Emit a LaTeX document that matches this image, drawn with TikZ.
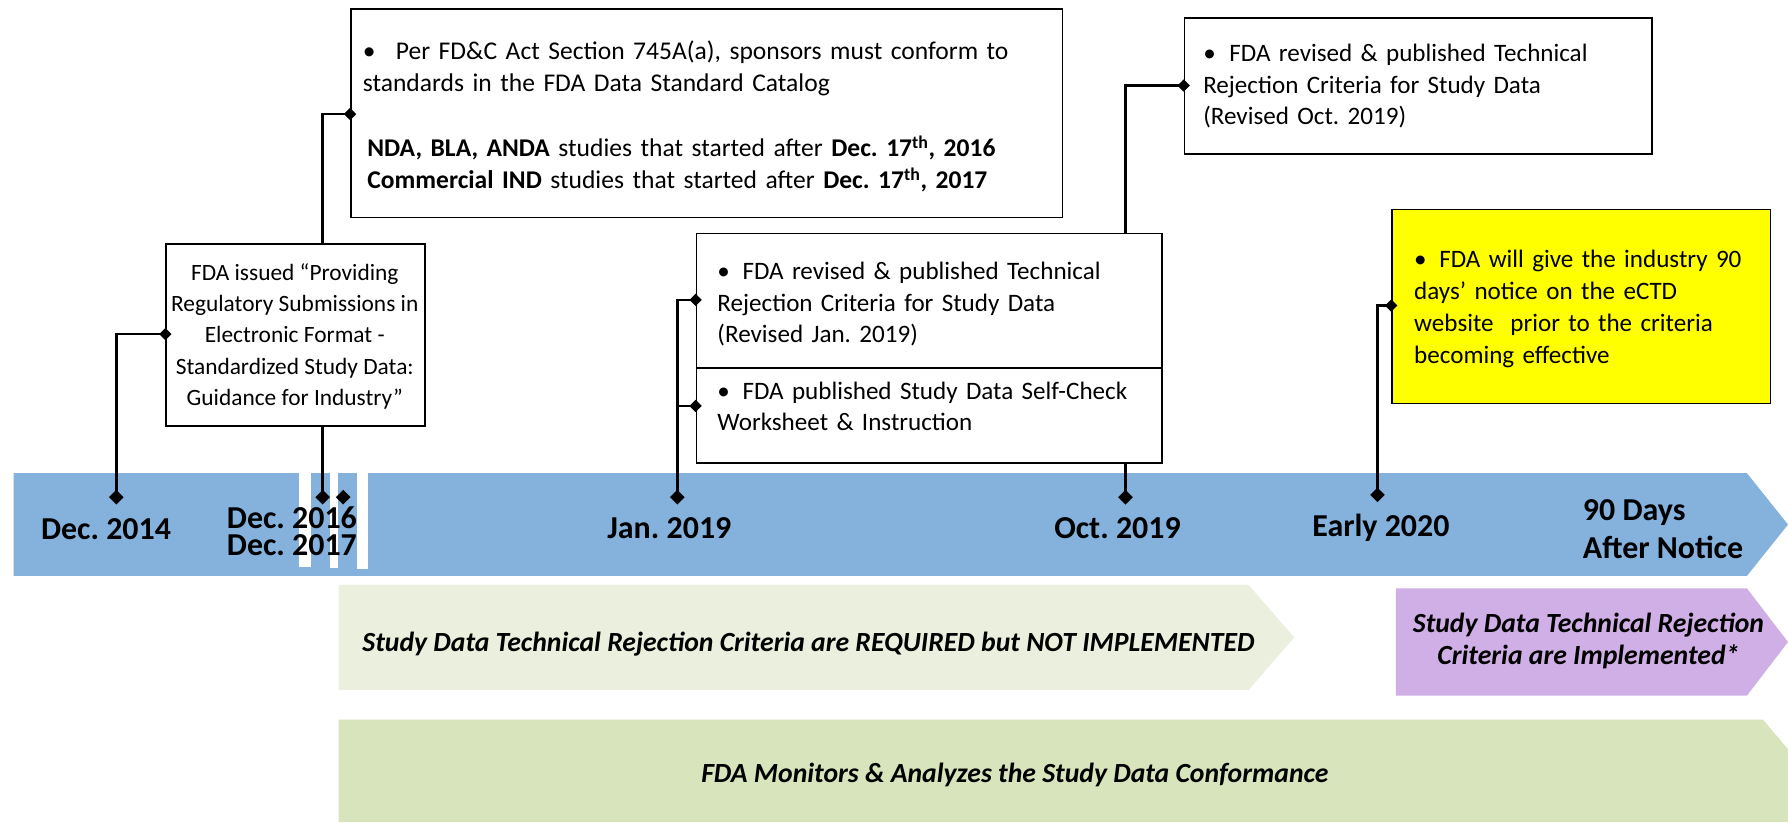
\documentclass[tikz,border=0pt]{standalone}
\usepackage{fontspec}
\setmainfont{Carlito}
\usetikzlibrary{shapes.geometric}
\frenchspacing
\definecolor{barblue}{HTML}{84B2DD}
\definecolor{lgreen}{HTML}{EBF0DE}
\definecolor{dgreen}{HTML}{D7E4BC}
\definecolor{lpurple}{HTML}{CFAFE5}
\definecolor{yel}{HTML}{FFFF00}
\newcommand{\bulitem}[2]{\hangindent=#1\hangafter=1\noindent\makebox[#1][l]{•}#2\par}
\tikzset{
 conn/.style={line width=2.2pt},
 dmd/.style={diamond, fill=black, inner sep=0pt, minimum size=13pt},
 box/.style={draw=black, line width=1.5pt, fill=white, inner sep=0pt},
 txt/.style={font=\fontsize{22}{27.8}\selectfont\frenchspacing, inner sep=0pt},
 lbl/.style={font=\fontsize{28}{34}\selectfont\bfseries\frenchspacing, inner sep=0pt},
 arrtxt/.style={font=\fontsize{24.3}{28}\selectfont\bfseries\itshape, inner sep=0pt},
}
\begin{document}
\begin{tikzpicture}[x=1pt,y=-1pt]
\useasboundingbox (0,0) rectangle (1568,721);
% ---- bars ----
\fill[barblue] (12,415) -- (1532,415) -- (1568,460) -- (1532,505) -- (12,505) -- cycle;
\fill[white] (262,415) rectangle (273,497);
\fill[white] (289,415) rectangle (296,498);
\fill[white] (313,415) rectangle (323,499);
\fill[lgreen] (297,513) -- (1095,513) -- (1135,559) -- (1095,605) -- (297,605) -- cycle;
\fill[lpurple] (1224,516) -- (1532,516) -- (1568,563) -- (1532,610) -- (1224,610) -- cycle;
\fill[dgreen] (297,631) -- (1546,631) -- (1568,657) -- (1568,721) -- (297,721) -- cycle;
% ---- connector points ----
\coordinate (c14) at (102,436);
\coordinate (c16) at (283,436);
\coordinate (c17) at (301,436);
\coordinate (cj19) at (594,436);
\coordinate (co19) at (987,436);
\coordinate (c20) at (1208,434);
\coordinate (e1) at (145,293);
\coordinate (e2) at (307,100);
\coordinate (e3a) at (610,263);
\coordinate (e3b) at (610,356);
\coordinate (e4) at (1038,75);
\coordinate (e5) at (1220,268);
% ---- connectors ----
\draw[conn] (c14) |- (e1);
\draw[conn] (c16) |- (e2);
\draw[conn] (cj19) |- (e3a);
\draw[conn] (cj19 |- e3b) -- (e3b);
\draw[conn] (co19) |- (e4);
\draw[conn] (c20) |- (e5);
% ---- boxes ----
\node[box, minimum width=227pt, minimum height=160pt, anchor=north west] (b1) at (145,213) {};
\node[box, minimum width=624pt, minimum height=183pt, anchor=north west] (b2) at (307,7) {};
\node[box, minimum width=408pt, minimum height=118pt, anchor=north west] (b3a) at (610,204) {};
\node[box, minimum width=408pt, minimum height=83pt, anchor=north west] (b3b) at (610,322) {};
\node[box, minimum width=410pt, minimum height=119pt, anchor=north west] (b4) at (1038,15) {};
\node[box, fill=yel, minimum width=332pt, minimum height=170pt, anchor=north west] (b5) at (1220,183) {};
% ---- box texts ----
\node[txt, font=\fontsize{20.5}{27.5}\selectfont, align=center] (t1) at (258.5,295) {FDA issued “Providing\\Regulatory Submissions in\\Electronic Format -\\Standardized Study Data:\\Guidance for Industry”};
\node[txt, font=\fontsize{22.4}{27.8}\selectfont, text width=610pt, anchor=base west] (t2) at (318,52) {%
\bulitem{29pt}{Per FD\&C Act Section 745A(a), sponsors must conform to\\standards in the FDA Data Standard Catalog}
\vspace{30pt}
\noindent\hspace{4pt}\textbf{NDA, BLA, ANDA} studies that started after \textbf{Dec. 17\textsuperscript{th}, 2016}\\
\hspace*{4pt}\textbf{Commercial IND} studies that started after \textbf{Dec. 17\textsuperscript{th}, 2017}\par};
\node[txt, text width=390pt, anchor=base west] (t3a) at (629,245) {%
\bulitem{22pt}{FDA revised \& published Technical\\Rejection Criteria for Study Data\\(Revised Jan. 2019)}};
\node[txt, text width=390pt, anchor=base west] (t3b) at (629,350) {%
\bulitem{22pt}{FDA published Study Data Self-Check\\Worksheet \& Instruction}};
\node[txt, text width=390pt, anchor=base west] (t4) at (1055,54) {%
\bulitem{23pt}{FDA revised \& published Technical\\Rejection Criteria for Study Data\\(Revised Oct. 2019)}};
\node[txt, text width=320pt, anchor=base west] (t5) at (1240,235) {%
\bulitem{22pt}{FDA will give the industry 90\\days’ notice on the eCTD\\website\ \ prior to the criteria\\becoming effective}};
% ---- diamonds ----
\node[dmd] (d14) at (c14) {};
\node[dmd] (d16) at (c16) {};
\node[dmd] (d17) at (c17) {};
\node[dmd] (dj19) at (cj19) {};
\node[dmd] (do19) at (co19) {};
\node[dmd] (d20) at (c20) {};
\node[dmd, minimum size=11pt] (f1) at (e1) {};
\node[dmd, minimum size=11pt] (f2) at (e2) {};
\node[dmd, minimum size=11pt] (f3a) at (e3a) {};
\node[dmd, minimum size=11pt] (f3b) at (e3b) {};
\node[dmd, minimum size=11pt] (f4) at (e4) {};
\node[dmd, minimum size=11pt] (f5) at (e5) {};
% ---- bar labels ----
\node[lbl] (l14) at (93,464) {Dec. 2014};
\node[lbl, font=\fontsize{28}{24}\selectfont\bfseries, align=center] (l16) at (256,466) {Dec. 2016\\Dec. 2017};
\node[lbl] (lj19) at (587,463) {Jan. 2019};
\node[lbl] (lo19) at (980,463) {Oct. 2019};
\node[lbl] (l20) at (1211,463) {Early 2020};
\node[lbl, align=left, anchor=west] (l90) at (1388,464) {90 Days\\After Notice};
% ---- arrow labels ----
\node[arrtxt] (a1) at (709,565) {Study Data Technical Rejection Criteria are REQUIRED but NOT IMPLEMENTED};
\node[arrtxt, align=center] (a2) at (1393,562) {Study Data Technical Rejection\\Criteria are Implemented*};
\node[arrtxt] (a3) at (890,680) {FDA Monitors \& Analyzes the Study Data Conformance};
\end{tikzpicture}
\end{document}
